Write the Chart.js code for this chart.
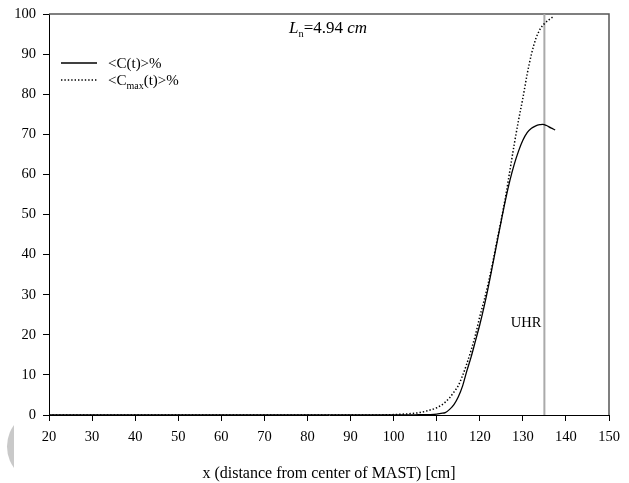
<!DOCTYPE html>
<html>
<head>
<meta charset="utf-8">
<script src="https://cdn.jsdelivr.net/npm/chart.js@4.4.1/dist/chart.umd.min.js"></script>
<style>
    html, body { margin: 0; padding: 0; background: #fff; }
    #wrap { position: relative; width: 629px; height: 483px; }
    #chart { position: absolute; left: 0; top: 0; }
    .moon { position: absolute; left: 0; top: 410px; width: 14px; height: 73px; overflow: hidden; }
    .moon::before { content: ""; position: absolute; left: 7px; top: 0; width: 73px; height: 73px; border-radius: 50%; background: #c9c9c9; }
</style>
</head>
<body>
<div id="wrap">
    <div class="moon"></div>
    <canvas id="chart" width="629" height="483"></canvas>
</div>
<script>
// <C(t)> profile (solid)
const cX = [20, 30, 40, 50, 60, 70, 80, 90, 100, 105, 108, 110, 111, 112, 113, 114, 115, 116, 117, 118, 119, 120,
    121, 122, 123, 124, 125, 126, 127, 128, 129, 130, 131, 132, 133, 134, 134.6, 135.5, 136.5, 137.5];
const cVals = [0, 0, 0, 0, 0, 0, 0, 0, 0, 0.05, 0.1, 0.2, 0.4, 0.6, 1.4, 2.6, 4.5, 7.2, 11, 14.5, 18.5, 22.5,
    27, 32, 37.5, 43, 48.5, 53.8, 58.5, 62.5, 65.8, 68.5, 70.4, 71.5, 72.1, 72.4, 72.5, 72.2, 71.6, 71.1];

// <Cmax(t)> profile (dotted)
const cmaxX = [20, 30, 40, 50, 60, 70, 80, 90, 96, 98, 100, 102, 104, 106, 108, 110, 111, 112, 113, 114, 115, 116,
    117, 118, 119, 120, 121, 122, 123, 124, 125, 126, 127, 128, 129, 130, 131, 132, 133, 134, 135, 136, 137];
const cmaxVals = [0, 0, 0, 0, 0, 0, 0, 0, 0, 0.05, 0.1, 0.2, 0.35, 0.6, 1.1, 1.8, 2.4, 3.2, 4.3, 5.7, 7.3, 9.8,
    12.8, 16.2, 20, 24.5, 28.5, 33, 38, 43.5, 48.8, 54.5, 61, 67.5, 73.5, 79, 85, 90, 93.8, 96.2, 97.6, 98.5, 99.3];

const xTicks = [20, 30, 40, 50, 60, 70, 80, 90, 100, 110, 120, 130, 140, 150];
const yTicks = [0, 10, 20, 30, 40, 50, 60, 70, 80, 90, 100];

const uhrX = 135;
const uhrLabelY = 23;

const serif = "'Liberation Serif', 'Times New Roman', serif";
const tickFont = { family: serif, size: 14.5 };
const dots = [1.4, 2];

function pts(xs, ys) {
    return xs.map((x, i) => ({ x, y: ys[i] }));
}

// draw text runs with optional subscript pieces
function runs(ctx, x, y, parts) {
    let cx = x;
    for (const p of parts) {
        ctx.font = `${p.italic ? "italic " : ""}${p.size}px ${serif}`;
        ctx.fillText(p.t, cx, y + (p.sub ? 4 : 0));
        cx += ctx.measureText(p.t).width;
    }
    return cx - x;
}

function width(ctx, parts) {
    let w = 0;
    for (const p of parts) {
        ctx.font = `${p.italic ? "italic " : ""}${p.size}px ${serif}`;
        w += ctx.measureText(p.t).width;
    }
    return w;
}

const decor = {
    id: "decor",
    beforeDatasetsDraw(chart) {
        const { ctx, chartArea: a, scales } = chart;
        ctx.save();
        // frame on top and right
        ctx.strokeStyle = "#555";
        ctx.lineWidth = 1.5;
        ctx.beginPath();
        ctx.moveTo(a.left, a.top);
        ctx.lineTo(a.right, a.top);
        ctx.lineTo(a.right, a.bottom);
        ctx.stroke();

        // UHR marker
        const ux = scales.x.getPixelForValue(uhrX);
        ctx.strokeStyle = "#aaa";
        ctx.lineWidth = 2;
        ctx.beginPath();
        ctx.moveTo(ux, a.top);
        ctx.lineTo(ux, a.bottom);
        ctx.stroke();
        ctx.fillStyle = "#000";
        ctx.font = `14.5px ${serif}`;
        ctx.textAlign = "right";
        ctx.textBaseline = "middle";
        ctx.fillText("UHR", ux - 3, scales.y.getPixelForValue(uhrLabelY));
        ctx.restore();
    },
    afterDraw(chart) {
        const { ctx } = chart;
        ctx.save();
        ctx.fillStyle = "#000";
        ctx.textAlign = "left";
        ctx.textBaseline = "alphabetic";

        // title
        const title = [
            { t: "L", size: 17, italic: true },
            { t: "n", size: 10.5, sub: true },
            { t: "=4.94 ", size: 17 },
            { t: "cm", size: 17, italic: true }
        ];
        const tw = width(ctx, title);
        runs(ctx, 328 - tw / 2, 33, title);

        // legend
        ctx.strokeStyle = "#000";
        ctx.lineWidth = 1.3;
        ctx.beginPath();
        ctx.moveTo(61, 63);
        ctx.lineTo(97, 63);
        ctx.stroke();
        ctx.setLineDash(dots);
        ctx.lineWidth = 1.5;
        ctx.beginPath();
        ctx.moveTo(61, 80);
        ctx.lineTo(97, 80);
        ctx.stroke();
        ctx.setLineDash([]);

        runs(ctx, 108, 68, [{ t: "<C(t)>%", size: 15 }]);
        runs(ctx, 108, 85, [
            { t: "<C", size: 15 },
            { t: "max", size: 10, sub: true },
            { t: "(t)>%", size: 15 }
        ]);
        ctx.restore();
    }
};

new Chart(document.getElementById("chart"), {
    type: "line",
    data: {
        datasets: [{
            label: "<C(t)>%",
            data: pts(cX, cVals),
            borderColor: "#000",
            borderWidth: 1.3,
            pointRadius: 0,
            cubicInterpolationMode: "monotone",
            fill: false
        }, {
            label: "<Cmax(t)>%",
            data: pts(cmaxX, cmaxVals),
            borderColor: "#000",
            borderWidth: 1.5,
            borderDash: dots,
            pointRadius: 0,
            cubicInterpolationMode: "monotone",
            fill: false
        }]
    },
    options: {
        responsive: false,
        animation: false,
        layout: { padding: { top: 14, right: 20, left: 0, bottom: 0 } },
        plugins: {
            legend: { display: false },
            tooltip: { enabled: false }
        },
        scales: {
            x: {
                type: "linear",
                min: 20,
                max: 150,
                afterBuildTicks: s => { s.ticks = xTicks.map(v => ({ value: v })); },
                afterFit: s => { s.height = 68; s.paddingLeft = 0; s.paddingRight = 0; },
                grid: { drawOnChartArea: false, tickLength: 6, color: "#000", lineWidth: 1 },
                border: { color: "#000", width: 1 },
                ticks: { color: "#000", font: tickFont, padding: 7, maxRotation: 0 },
                title: {
                    display: true,
                    text: "x (distance from center of MAST) [cm]",
                    color: "#000",
                    font: { family: serif, size: 16 },
                    padding: { top: 7, bottom: 0 }
                }
            },
            y: {
                min: 0,
                max: 100,
                afterBuildTicks: s => { s.ticks = yTicks.map(v => ({ value: v })); },
                afterFit: s => { s.width = 49; s.paddingTop = 0; s.paddingBottom = 0; },
                grid: { drawOnChartArea: false, tickLength: 6, color: "#000", lineWidth: 1 },
                border: { color: "#000", width: 1 },
                ticks: { color: "#000", font: tickFont, padding: 7 }
            }
        }
    },
    plugins: [decor]
});
</script>
</body>
</html>
